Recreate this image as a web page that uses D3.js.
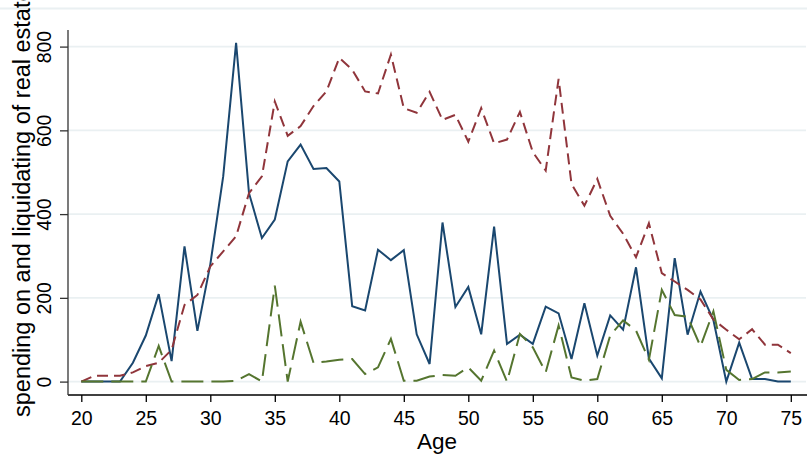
<!DOCTYPE html>
<html>
<head>
<meta charset="utf-8">
<script src="https://cdn.jsdelivr.net/npm/d3@7"></script>
<style>
  body { margin: 0; background: #fff; }
  svg { display: block; font-family: "Liberation Sans", Arial, Helvetica, sans-serif; }
</style>
</head>
<body>
<div id="viz"></div>
<script>
var width = 807,
  height = 455

// ages on the x axis
var ages = d3.range(20, 76)

// solid navy line
var solidSeries = [
  0, 0, 0, 0, 45, 110, 209, 49, 323, 121,
  280, 490, 809, 450, 343, 387, 526, 566, 508, 510,
  478, 180, 170, 315, 290, 314, 113, 42, 380, 178,
  226, 113, 370, 90, 112, 90, 179, 163, 54, 187,
  62, 158, 124, 273, 55, 8, 295, 112, 215, 147,
  0, 93, 6, 6, 0, 0
]

// short dashed maroon line
var dashSeries = [
  0, 14, 14, 14, 22, 37, 45, 76, 183, 207,
  275, 311, 347, 450, 490, 669, 587, 610, 658, 693,
  773, 745, 693, 688, 781, 653, 642, 692, 625, 637,
  573, 653, 569, 578, 644, 548, 504, 723, 472, 420,
  484, 396, 353, 297, 378, 259, 239, 219, 196, 148,
  124, 101, 125, 88, 88, 68
]

// long dashed green line
var longdashSeries = [
  0, 0, 0, 0, 0, 0, 85, 0, 0, 0,
  0, 0, 2, 18, 0, 229, 0, 143, 45, 48,
  52, 54, 18, 34, 102, 2, 2, 12, 16, 14,
  34, 2, 74, 0, 114, 82, 22, 134, 10, 2,
  6, 110, 146, 122, 52, 219, 159, 155, 84, 168,
  28, 4, 6, 22, 22, 24
]

var xTicks = [20, 25, 30, 35, 40, 45, 50, 55, 60, 65, 70, 75]
var yTicks = [0, 200, 400, 600, 800]

var yTitle = "spending on and liquidating of real estate"
var xTitle = "Age"

var series = [
  { values: solidSeries, color: "#1a476f", dash: null },
  { values: dashSeries, color: "#90353b", dash: "11,6" },
  { values: longdashSeries, color: "#55752f", dash: "22,8" }
]

var x = d3.scaleLinear().domain([20, 75]).range([81.3, 790.8])
var y = d3.scaleLinear().domain([0, 800]).range([381.6, 46.6])

var svg = d3.select("#viz").append("svg")
  .attr("width", width)
  .attr("height", height)

// faint line along the top of the graph
svg.append("line")
  .attr("x1", 0).attr("x2", width)
  .attr("y1", 8.5).attr("y2", 8.5)
  .attr("stroke", "#eaf0f2")
  .attr("stroke-width", 2)

// gridlines
svg.append("g").selectAll("line")
  .data(yTicks)
  .enter().append("line")
  .attr("x1", 68).attr("x2", 806)
  .attr("y1", function(d) { return y(d) })
  .attr("y2", function(d) { return y(d) })
  .attr("stroke", "#eaf0f2")
  .attr("stroke-width", 1.6)

// series lines
var line = d3.line()
  .x(function(d, i) { return x(ages[i]) })
  .y(function(d) { return y(d) })

svg.append("g").selectAll("path")
  .data(series)
  .enter().append("path")
  .attr("d", function(d) { return line(d.values) })
  .attr("fill", "none")
  .attr("stroke", function(d) { return d.color })
  .attr("stroke-width", 2)
  .attr("stroke-linejoin", "miter")
  .attr("stroke-dasharray", function(d) { return d.dash })

// x axis
var xAxis = svg.append("g")
  .attr("transform", "translate(0,395)")
  .call(d3.axisBottom(x).tickValues(xTicks).tickSize(7).tickPadding(9).tickSizeOuter(0))
xAxis.select(".domain").attr("d", "M68,0H807")
xAxis.selectAll("line, .domain").attr("stroke", "#000").attr("stroke-width", 1.3)
xAxis.selectAll("text")
  .attr("font-size", "19.5px")
  .attr("font-family", "\"Liberation Sans\", Arial, sans-serif")
  .attr("fill", "#000")

// y axis
var yAxis = svg.append("g")
  .attr("transform", "translate(68,0)")
  .call(d3.axisLeft(y).tickValues(yTicks).tickSize(8).tickSizeOuter(0))
yAxis.select(".domain").attr("d", "M0,30V395")
yAxis.selectAll("line, .domain").attr("stroke", "#333").attr("stroke-width", 1.3)
yAxis.selectAll("text")
  .attr("font-size", "19.5px")
  .attr("font-family", "\"Liberation Sans\", Arial, sans-serif")
  .attr("fill", "#000")
  .attr("text-anchor", "middle")
  .attr("x", 0).attr("dy", 0)
  .attr("transform", "translate(-17,0) rotate(-90)")

// axis titles
svg.append("text")
  .attr("x", 437)
  .attr("y", 448.5)
  .attr("text-anchor", "middle")
  .attr("font-size", "22.5px")
  .text(xTitle)

svg.append("text")
  .attr("transform", "translate(30,417) rotate(-90)")
  .attr("text-anchor", "start")
  .attr("font-size", "23.5px")
  .text(yTitle)
</script>
</body>
</html>
